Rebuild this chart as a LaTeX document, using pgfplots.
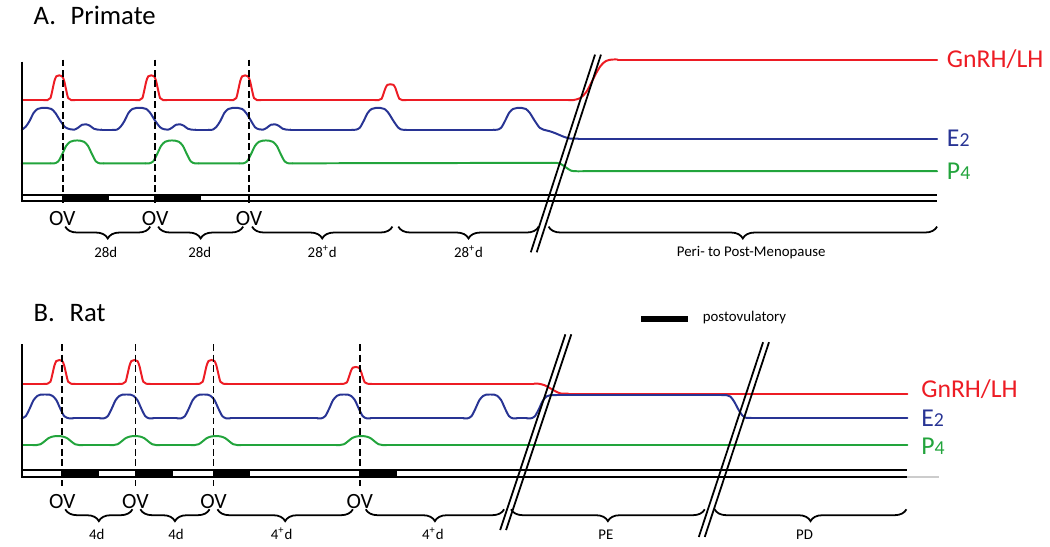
\documentclass[border=0pt]{standalone}
\usepackage{fontspec}
\setmainfont{Carlito}
\usepackage{pgfplots}
\pgfplotsset{compat=1.18}
\usetikzlibrary{decorations.pathreplacing}
\definecolor{lhred}{RGB}{237,28,36}
\definecolor{e2blue}{RGB}{40,52,148}
\definecolor{p4green}{RGB}{34,164,60}
\pgfplotsset{
  curve/.style={line width=1pt, line cap=round, smooth, tension=0.5, unbounded coords=jump},
  flat/.style={line width=1pt, line cap=round, unbounded coords=jump},
  frame/.style={black, line width=1pt},
  ovline/.style={black, line width=0.9pt, dash pattern=on 3.5pt off 1.8pt},
  slash/.style={black, line width=0.9pt},
  brace/.style={black, line width=0.9pt, decorate, decoration={brace, mirror, amplitude=6pt}},
  bar/.style={fill=black, draw=none},
}
\begin{document}
\begin{tikzpicture}
\begin{axis}[x=0.5pt, y=0.5pt, xmin=0, xmax=1050, ymin=0, ymax=545,
  y dir=reverse, hide axis, clip=false,
  every node/.append style={inner sep=0pt}]
\addplot[draw=none] coordinates {(0,0) (1050,545)};

% ---------------- A. Primate ----------------
\node[anchor=base west, font=\fontsize{13.5}{16}\selectfont] at (27,22) {A.\hspace{0.55em}Primate};

% GnRH/LH
\addplot[curve, lhred] coordinates {
 (44,98) (48,98) (51,96) (53,88) (55,79) (57,74) (60,73) (63,74) (65,79) (67,88) (69,96) (72,98) (76,98) (100,nan)
 (137,98) (141,98) (144,96) (146,88) (148,79) (150,74) (153,73) (156,74) (158,79) (160,88) (162,96) (165,98) (169,98) (200,nan)
 (232,98) (236,98) (239,96) (241,88) (243,79) (245,74) (248,73) (251,74) (253,79) (255,88) (257,96) (260,98) (264,98) (300,nan)
 (379,98) (383,98) (386,96.7) (388,91.6) (390,85.8) (392,82.6) (395,82) (398,82.6) (400,85.8) (402,91.6) (404,96.7) (407,98) (411,98) (500,nan)
 (575,98) (580,98) (587,96) (593,90) (598,81) (603,71) (608,63) (613,58.5) (619,57) (625,57)};
\addplot[flat, lhred] coordinates {(22,98) (44,98) (50,nan) (76,98) (137,98) (150,nan) (169,98) (232,98) (250,nan)
 (264,98) (379,98) (390,nan) (411,98) (575,98) (600,nan) (625,57) (948,57)};
% E2
\addplot[curve, e2blue] coordinates {
 (22,128) (26,125) (30,119) (34,111) (38,107) (42,106) (48,106) (52,107) (56,111) (61,119) (66,125.5) (71,127.5)
 (75,128) (79,126) (83,123) (87,122.5) (91,124) (95,127) (99,128) (103,128) (110,nan)
 (114,128) (118,128) (122,125) (126,119) (130,111) (134,107) (138,106) (144,106) (148,107) (152,111) (157,119) (162,125.5) (166,127.5)
 (170,128) (174,126) (178,123) (182,122.5) (186,124) (190,127) (194,128) (198,128) (205,nan)
 (211,128) (215,128) (219,125) (223,119) (227,111) (231,107) (235,106) (241,106) (245,107) (249,111) (254,119) (258,125.5) (262,127.5)
 (266,128) (270,126) (274,123) (278,122.5) (282,124) (286,127) (290,128) (294,128) (300,nan)
 (356,128) (360,128) (364,126) (368,119) (372,111) (376,107) (380,106) (385,106) (389,107) (393,111) (398,119) (403,126) (407,128) (411,128) (450,nan)
 (499,128) (503,128) (507,126) (511,119) (515,111) (519,107) (523,106) (528,106) (532,107) (536,111) (541,119) (546,126) (550,128)
 (556,129.5) (563,132) (570,135) (577,137) (585,137)};
\addplot[flat, e2blue] coordinates {(103,128) (114,128) (110,nan) (198,128) (211,128) (205,nan) (294,128) (356,128) (300,nan)
 (411,128) (499,128) (450,nan) (585,137) (948,137)};
% P4
\addplot[curve, p4green] coordinates {
 (51,162) (55,162) (59,160) (63,152.6) (67,144.3) (71,140.2) (75,139) (81,139) (85,140.2) (89,144.3) (93,152.6) (97,160) (101,162) (105,162) (120,nan)
 (147,162) (151,162) (155,160) (159,152.6) (163,144.3) (167,140.2) (171,139) (177,139) (181,140.2) (185,144.3) (189,152.6) (193,160) (197,162) (201,162) (220,nan)
 (242,162) (246,162) (250,160) (254,152.6) (258,144.3) (262,140.2) (266,139) (272,139) (276,140.2) (280,144.3) (284,152.6) (288,160) (292,162) (296,162) (400,nan)
 (558,161.5) (563,161.5) (568,163) (573,166.5) (578,169.5) (583,170) (590,170)};
\addplot[flat, p4green] coordinates {(22,162) (51,162) (60,nan) (105,162) (147,162) (150,nan) (201,162) (242,162) (250,nan)
 (296,162) (558,161.5) (570,nan) (590,170) (948,170)};

% frame, band, ovulation
\addplot[frame] coordinates {(22,59) (22,200) (948,200)};
\addplot[frame] coordinates {(22,194) (948,194)};
\addplot[bar] coordinates {(63,194) (110,194) (110,200) (63,200)} --cycle;
\addplot[bar] coordinates {(157,194) (203,194) (203,200) (157,200)} --cycle;
\addplot[ovline] coordinates {(64,57) (64,203)};
\addplot[ovline] coordinates {(157,57) (157,203)};
\addplot[ovline] coordinates {(252,57) (252,203)};
\addplot[slash] coordinates {(537,252) (602,52)};
\addplot[slash] coordinates {(543,252) (608,52)};

\node[anchor=base west, font=\fontsize{13}{15}\selectfont, text=lhred] at (951,65) {GnRH/LH};
\node[anchor=base west, font=\fontsize{13}{15}\selectfont, text=e2blue] at (951,145) {E{\fontsize{10}{12}\selectfont 2}};
\node[anchor=base west, font=\fontsize{13}{15}\selectfont, text=p4green] at (951,178) {P{\fontsize{10}{12}\selectfont 4}};

\node[anchor=base, font=\fontsize{11}{13}\selectfont] at (63,225) {OV};
\node[anchor=base, font=\fontsize{11}{13}\selectfont] at (157,225) {OV};
\node[anchor=base, font=\fontsize{11}{13}\selectfont] at (252,225) {OV};

\addplot[brace] coordinates {(66,226) (152,226)};
\addplot[brace] coordinates {(160,226) (246,226)};
\addplot[brace] coordinates {(255,226) (397,226)};
\addplot[brace] coordinates {(403,226) (545,226)};
\addplot[brace] coordinates {(555,226) (948,226)};
\node[anchor=base, font=\fontsize{7.5}{9}\selectfont] at (107,257) {28d};
\node[anchor=base, font=\fontsize{7.5}{9}\selectfont] at (202,257) {28d};
\node[anchor=base, font=\fontsize{7.5}{9}\selectfont] at (326,257) {28\textsuperscript{+}d};
\node[anchor=base, font=\fontsize{7.5}{9}\selectfont] at (474,257) {28\textsuperscript{+}d};
\node[anchor=base, font=\fontsize{7.5}{9}\selectfont] at (760,256) {Peri- to Post-Menopause};

% ---------------- B. Rat ----------------
\node[anchor=base west, font=\fontsize{13.5}{16}\selectfont] at (27,322) {B.\hspace{0.55em}Rat};

% GnRH/LH
\addplot[curve, lhred] coordinates {
 (44,385) (48,385) (51,383) (53,375.4) (55,366.8) (57,362) (60,361) (63,362) (65,366.8) (67,375.4) (69,383) (72,385) (76,385) (100,nan)
 (120,385) (124,385) (127,383) (129,375.4) (131,366.8) (133,362) (136,361) (139,362) (141,366.8) (143,375.4) (145,383) (148,385) (152,385) (180,nan)
 (198,385) (202,385) (205,383) (207,375.4) (209,366.8) (211,362) (214,361) (217,362) (219,366.8) (221,375.4) (223,383) (226,385) (230,385) (300,nan)
 (344,385) (348,385) (351,383.6) (353,378.2) (355,372.1) (357,368.7) (360,368) (363,368.7) (365,372.1) (367,378.2) (369,383.6) (372,385) (376,385) (450,nan)
 (540,385) (545,385) (551,386.5) (557,389.8) (563,393.2) (568,395) (575,395)};
\addplot[flat, lhred] coordinates {(22,385) (44,385) (50,nan) (76,385) (120,385) (100,nan) (152,385) (198,385) (180,nan)
 (230,385) (344,385) (300,nan) (376,385) (540,385) (450,nan) (575,395) (918,395)};
% E2
\addplot[curve, e2blue] coordinates {
 (22,420) (26,417.8) (30,410.2) (34,401.5) (38,397.2) (41,396) (50,396) (53,397.2) (57,401.5) (61,410.2) (65,417.8) (70,420) (74,420) (90,nan)
 (101,420) (105,420) (109,417.8) (113,410.2) (117,401.5) (121,397.2) (124,396) (132,396) (135,397.2) (139,401.5) (143,410.2) (147,417.8) (151,420) (155,420) (170,nan)
 (179,420) (183,420) (187,417.8) (191,410.2) (195,401.5) (199,397.2) (202,396) (210,396) (213,397.2) (217,401.5) (221,410.2) (225,417.8) (229,420) (233,420) (300,nan)
 (321,420) (325,420) (329,417.8) (333,410.2) (337,401.5) (341,397.2) (344,396) (352,396) (355,397.2) (359,401.5) (363,410.2) (367,417.8) (371,420) (375,420) (400,nan)
 (469,420) (473,420) (477,417.8) (481,410.2) (485,401.5) (489,397.2) (492,396) (500,396) (503,397.2) (507,401.5) (511,410.2) (515,417.8) (519,420) (523,420) (528,nan)
 (533,420) (537,420) (541,418) (545,411) (549,402.5) (553,397.8) (558,396.5) (563,396.5) (600,nan)
 (730,396.5) (735,396.5) (739,398) (743,403.5) (747,411) (751,417) (755,419.5) (760,419.5)};
\addplot[flat, e2blue] coordinates {(74,420) (101,420) (90,nan) (155,420) (179,420) (170,nan) (233,420) (321,420) (300,nan)
 (375,420) (469,420) (400,nan) (523,420) (533,420) (528,nan) (563,396.5) (730,396.5) (700,nan) (760,419.5) (918,419.5)};
% P4
\addplot[curve, p4green] coordinates {
 (33,447) (37,447) (41,446.2) (45,443.3) (49,440.1) (53,438.5) (56,438) (61,438) (64,438.5) (68,440.1) (72,443.3) (76,446.2) (80,447) (84,447) (100,nan)
 (111,447) (115,447) (119,446.2) (123,443.3) (127,440.1) (131,438.5) (134,438) (139,438) (142,438.5) (146,440.1) (150,443.3) (154,446.2) (158,447) (162,447) (180,nan)
 (193,447) (197,447) (201,446.2) (205,443.3) (209,440.1) (213,438.5) (216,438) (221,438) (224,438.5) (228,440.1) (232,443.3) (236,446.2) (240,447) (244,447) (300,nan)
 (340,447) (344,447) (348,446.2) (352,443.3) (356,440.1) (360,438.5) (363,438) (368,438) (371,438.5) (375,440.1) (379,443.3) (383,446.2) (387,447) (391,447)};
\addplot[flat, p4green] coordinates {(22,447) (33,447) (30,nan) (84,447) (111,447) (100,nan) (162,447) (193,447) (180,nan)
 (244,447) (340,447) (300,nan) (391,447) (918,447)};

% frame, band, ovulation
\addplot[frame] coordinates {(22,345) (22,479) (918,479)};
\addplot[frame] coordinates {(22,472) (918,472)};
\addplot[gray!40, line width=1pt] coordinates {(918,479.5) (950,479.5)};
\addplot[bar] coordinates {(63,472) (100,472) (100,479) (63,479)} --cycle;
\addplot[bar] coordinates {(137,472) (175,472) (175,479) (137,479)} --cycle;
\addplot[bar] coordinates {(216,472) (253,472) (253,479) (216,479)} --cycle;
\addplot[bar] coordinates {(364,472) (402,472) (402,479) (364,479)} --cycle;
\addplot[ovline] coordinates {(63,345) (63,488)};
\addplot[ovline] coordinates {(137,345) (137,488)};
\addplot[ovline] coordinates {(216,345) (216,488)};
\addplot[ovline] coordinates {(364,345) (364,488)};
\addplot[slash] coordinates {(506,533) (572,335)};
\addplot[slash] coordinates {(512,533) (578,335)};
\addplot[slash] coordinates {(707,540) (772,343)};
\addplot[slash] coordinates {(713,540) (778,343)};

% legend for the black bar
\addplot[bar] coordinates {(648,316) (696,316) (696,323) (648,323)} --cycle;
\node[anchor=west, font=\fontsize{7.5}{9}\selectfont] at (704,318) {postovulatory};

\node[anchor=base west, font=\fontsize{13}{15}\selectfont, text=lhred] at (925,399) {GnRH/LH};
\node[anchor=base west, font=\fontsize{13}{15}\selectfont, text=e2blue] at (925,428) {E{\fontsize{10}{12}\selectfont 2}};
\node[anchor=base west, font=\fontsize{13}{15}\selectfont, text=p4green] at (925,457) {P{\fontsize{10}{12}\selectfont 4}};

\node[anchor=base, font=\fontsize{11}{13}\selectfont] at (63,511) {OV};
\node[anchor=base, font=\fontsize{11}{13}\selectfont] at (137,511) {OV};
\node[anchor=base, font=\fontsize{11}{13}\selectfont] at (216,511) {OV};
\node[anchor=base, font=\fontsize{11}{13}\selectfont] at (364,511) {OV};

\addplot[brace] coordinates {(66,512) (134,512)};
\addplot[brace] coordinates {(142,512) (212,512)};
\addplot[brace] coordinates {(220,512) (357,512)};
\addplot[brace] coordinates {(370,512) (510,512)};
\addplot[brace] coordinates {(517,512) (713,512)};
\addplot[brace] coordinates {(723,512) (917,512)};
\node[anchor=base, font=\fontsize{7.5}{9}\selectfont] at (98,543) {4d};
\node[anchor=base, font=\fontsize{7.5}{9}\selectfont] at (178,543) {4d};
\node[anchor=base, font=\fontsize{7.5}{9}\selectfont] at (285,543) {4\textsuperscript{+}d};
\node[anchor=base, font=\fontsize{7.5}{9}\selectfont] at (438,543) {4\textsuperscript{+}d};
\node[anchor=base, font=\fontsize{7.5}{9}\selectfont] at (613,543) {PE};
\node[anchor=base, font=\fontsize{7.5}{9}\selectfont] at (814,543) {PD};
\end{axis}
\end{tikzpicture}
\end{document}
